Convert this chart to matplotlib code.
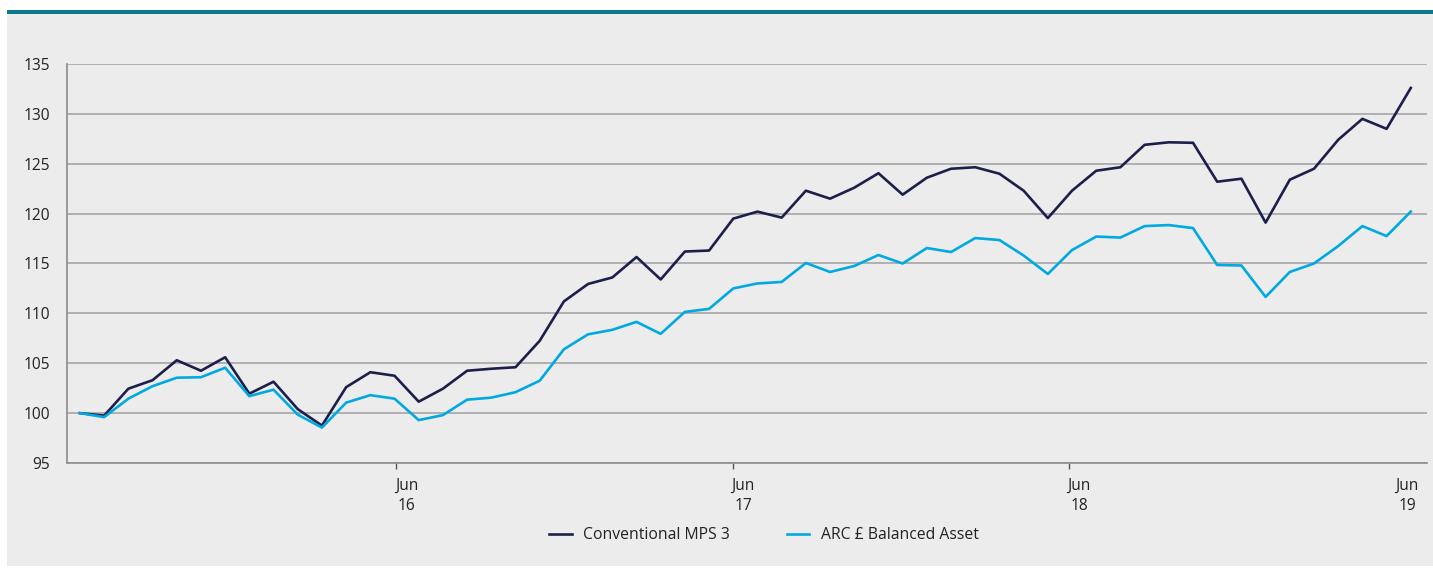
import numpy as np
import matplotlib.pyplot as plt
from matplotlib.patches import Rectangle

# monthly index values, rebased to 100
conventional = [100.0, 99.75, 102.45, 103.3, 105.3, 104.25, 105.6, 101.95, 103.15, 100.4,
                98.75, 102.6, 104.1, 103.75, 101.15, 102.45, 104.25, 104.45, 104.6, 107.25,
                111.2, 112.95, 113.6, 115.65, 113.4, 116.2, 116.3, 119.5, 120.2, 119.6,
                122.3, 121.5, 122.6, 124.05, 121.9, 123.6, 124.5, 124.65, 124.0, 122.3,
                119.55, 122.3, 124.3, 124.65, 126.9, 127.15, 127.1, 123.2, 123.5, 119.1,
                123.4, 124.5, 127.4, 129.5, 128.5, 132.6]
arc_balanced = [100.0, 99.6, 101.45, 102.7, 103.55, 103.6, 104.55, 101.7, 102.35, 99.85,
                98.55, 101.05, 101.8, 101.45, 99.3, 99.8, 101.35, 101.55, 102.1, 103.25,
                106.4, 107.9, 108.35, 109.15, 107.95, 110.15, 110.45, 112.5, 113.0, 113.15,
                115.05, 114.15, 114.75, 115.85, 115.0, 116.55, 116.15, 117.55, 117.35, 115.8,
                113.95, 116.35, 117.7, 117.6, 118.75, 118.85, 118.55, 114.85, 114.8, 111.65,
                114.15, 115.0, 116.75, 118.75, 117.75, 120.2]
series_names = ['Conventional MPS 3', 'ARC £ Balanced Asset']
tick_pos = [13.5, 27.4, 41.3, 54.85]
tick_labels = ['Jun\n16', 'Jun\n17', 'Jun\n18', 'Jun\n19']

plt.rcParams['font.family'] = ['Open Sans', 'DejaVu Sans']

navy = '#1c1f4a'
sky = '#00a9e0'
grid_col = '#a6a6a6'
panel = '#ececec'
teal = '#0a7a88'

W, H = 1433, 569
fig = plt.figure(figsize=(W / 100, H / 100), dpi=100, facecolor='white')
# grey background panel and teal rule at top
fig.add_artist(Rectangle((7 / W, (H - 566) / H), 1 - 7 / W, 553 / H,
                         transform=fig.transFigure, facecolor=panel, edgecolor='none', zorder=-2))
fig.add_artist(Rectangle((7 / W, (H - 14) / H), 1 - 7 / W, 3.5 / H,
                         transform=fig.transFigure, facecolor=teal, edgecolor='none', zorder=-1))

ax = fig.add_axes([67 / W, (H - 463) / H, 1360 / W, 399 / H])
ax.set_facecolor('none')

x = np.arange(len(conventional))
ax.plot(x, conventional, color=navy, lw=1.9, label=series_names[0], zorder=3)
ax.plot(x, arc_balanced, color=sky, lw=1.9, label=series_names[1], zorder=3)

ax.set_xlim(-0.536, 55.67)
ax.set_ylim(95, 135)
ax.set_yticks(np.arange(95, 136, 5))
ax.yaxis.grid(True, color=grid_col, lw=1.2)
ax.set_axisbelow(True)
ax.tick_params(axis='y', length=0, pad=12, labelsize=11.2, labelcolor='#222222')

# labels sit a little right of the tick marks, as in the source
ax.set_xticks(tick_pos)
ax.set_xticklabels(tick_labels, linespacing=1.3)
ax.set_xticks([p - 0.42 for p in tick_pos[:3]], minor=True)
ax.tick_params(axis='x', which='major', length=0, pad=11, labelsize=11.2, labelcolor='#222222')
ax.tick_params(axis='x', which='minor', length=4, width=1, color='#555555')

for s in ['top', 'right']:
    ax.spines[s].set_visible(False)
for s in ['left', 'bottom']:
    ax.spines[s].set_color('#8c8c8c')
    ax.spines[s].set_linewidth(1.2)

ax.legend(loc='center', bbox_to_anchor=(764 / W, (H - 535) / H), bbox_transform=fig.transFigure,
          ncol=2, frameon=False, fontsize=11.3, handlelength=1.45, handletextpad=0.75, columnspacing=3.6,
          labelcolor='#222222')

fig.savefig('out.png', dpi=100)
